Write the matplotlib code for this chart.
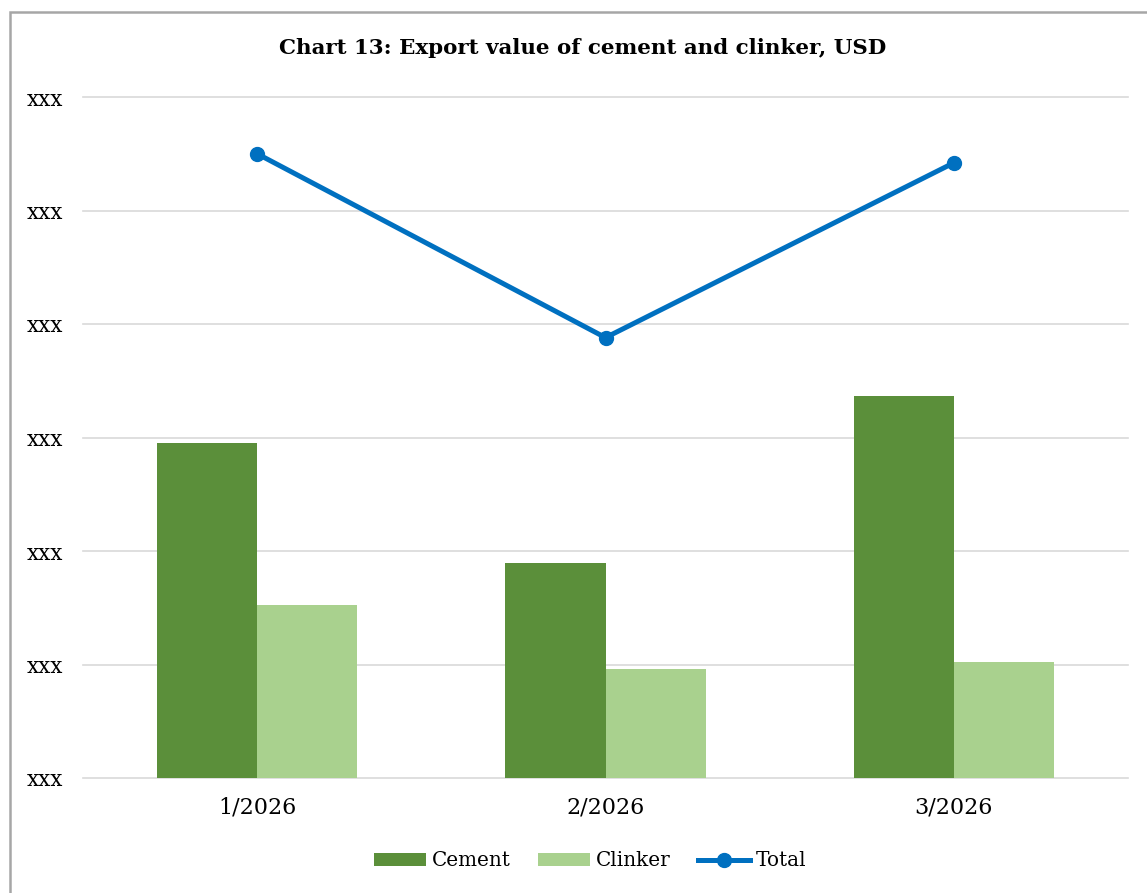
import matplotlib
matplotlib.use("Agg")
import matplotlib.pyplot as plt
import numpy as np
from matplotlib.patches import Rectangle

# Data (y axis in grid units)
months = ["1/2026", "2/2026", "3/2026"]
cement = [2.95, 1.89, 3.37]
clinker = [1.52, 0.96, 1.02]
total = [5.50, 3.88, 5.42]
yticks = [0, 1, 2, 3, 4, 5, 6]
ytick_labels = ["xxx"] * 7

plt.rcParams['font.family'] = ['DejaVu Serif']

fig = plt.figure(figsize=(11.47, 8.93), dpi=100)
ax = fig.add_axes([83/1147, 115/893, 1045/1147, 681/893])

x = np.arange(len(months))
w = 0.288
b1 = ax.bar(x - w/2, cement, width=w, color="#5b8f3a", label="Cement", zorder=2)
b2 = ax.bar(x + w/2, clinker, width=w, color="#a9d18e", label="Clinker", zorder=2)
l1, = ax.plot(x, total, color="#0070c0", lw=3.6, marker="o", markersize=10,
              label="Total", zorder=3)

ax.set_xlim(-0.5, 2.5)
ax.set_ylim(0, 6)
ax.set_yticks(yticks)
ax.set_yticklabels(ytick_labels, ha="left")
ax.set_xticks(x)
ax.set_xticklabels(months)
ax.tick_params(axis="y", length=0, pad=40.5, labelsize=15.5)
ax.tick_params(axis="x", length=0, pad=13, labelsize=16)
ax.grid(axis="y", color="#d9d9d9", lw=1.2, zorder=0)
for gl in ax.get_ygridlines():
    gl.set_clip_on(False)
ax.set_axisbelow(True)
for s in ax.spines.values():
    s.set_visible(False)

fig.text(583/1147, 1 - 48/893, "Chart 13: Export value of cement and clinker, USD",
         ha="center", va="center", fontsize=15.4, fontweight="bold")

leg = fig.legend([b1, b2, l1], ["Cement", "Clinker", "Total"],
                 loc="center", bbox_to_anchor=(590/1147, 1 - 861/893), ncol=3,
                 frameon=False, fontsize=14.4, handlelength=2.6, handleheight=0.6,
                 columnspacing=1.35, handletextpad=0.3)

# outer chart border
fig.patches.append(Rectangle((10/1147, -0.01), 1.1, 1 - 12/893 + 0.01,
                             transform=fig.transFigure, fill=False,
                             edgecolor="#a6a6a6", lw=1.8))

fig.savefig("out.png", dpi=100)
